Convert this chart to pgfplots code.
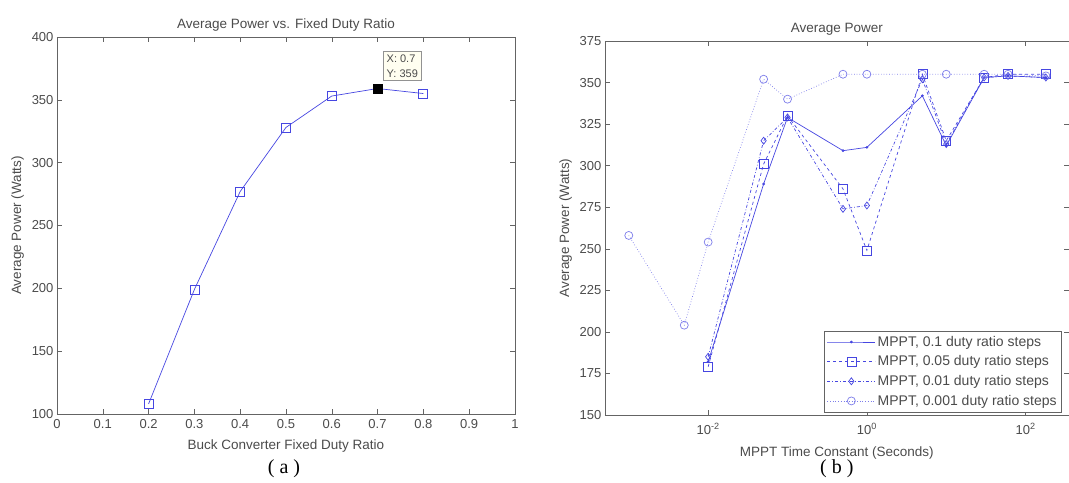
\documentclass[border=0pt]{standalone}
\usepackage{fontspec}
\setmainfont{Liberation Sans}
\newfontfamily\capfont{Liberation Serif}
\usepackage{pgfplots}
\usepackage{pgfplotstable}
\pgfplotsset{compat=1.18}

\definecolor{mblue}{RGB}{70,70,225}
\definecolor{txt}{RGB}{75,75,75}
\definecolor{axc}{RGB}{100,100,100}

% fixed duty ratio sweep
\pgfplotstableread{
d    p
0.2  108
0.3  199
0.4  277
0.5  328
0.6  353
0.7  359
0.8  355
}\fixed

% MPPT time constant sweeps
\pgfplotstableread{
t     p
0.01  182
0.05  289
0.1   329
0.5   309
1     311
5     342
10    312
30    353
60    354
180   353
}\sa
\pgfplotstableread{
t     p
0.01  179
0.05  301
0.1   330
0.5   286
1     249
5     355
10    315
30    353
60    355
180   355
}\sb
\pgfplotstableread{
t     p
0.01  185
0.05  315
0.1   329
0.5   274
1     276
5     352
10    313
30    353
60    354
180   353
}\sc
\pgfplotstableread{
t      p
0.001  258
0.005  204
0.01   254
0.05   352
0.1    340
0.5    355
1      355
5      355
10     355
30     355
60     355
180    354
}\sd

\pgfplotsset{
  mat/.style={
    scale only axis,
    axis line style={axc},
    every tick/.style={axc},
    tick align=inside,
    major tick length=5pt,
    tick label style={font=\fontsize{13}{15}\selectfont,txt},
    label style={font=\fontsize{13.5}{15}\selectfont,txt},
    title style={font=\fontsize{13.5}{15}\selectfont,txt,yshift=-4pt},
    /pgf/number format/assume math mode=true,
  },
}

\begin{document}
\begin{tikzpicture}
\path (0pt,0pt) rectangle (1069pt,483pt);

\begin{axis}[mat,
  at={(57pt,69pt)}, anchor=south west,
  width=458pt, height=377pt,
  xmin=0, xmax=1, ymin=100, ymax=400,
  xtick={0,0.1,0.2,0.3,0.4,0.5,0.6,0.7,0.8,0.9,1}, ytick={100,150,200,250,300,350,400},
  xticklabels={0,0.1,0.2,0.3,0.4,0.5,0.6,0.7,0.8,0.9,1},
  xticklabel style={yshift=-2pt},
  title={Average Power vs. Fixed Duty Ratio},
  xlabel={Buck Converter Fixed Duty Ratio},
  ylabel={Average Power (Watts)},
  xlabel style={yshift=-4pt},
  ylabel style={yshift=1pt},
]
\addplot[mblue, line width=0.7pt, mark=square, mark size=4.5pt, mark options={solid}] table[x=d,y=p] {\fixed};
\addplot[only marks, mark=square*, mark size=4.5pt, black] coordinates {(0.7,359)};
\node[draw=axc!70, fill=yellow!6, font=\fontsize{11}{15}\selectfont, text=txt, align=left, anchor=south west, inner sep=3pt] at (axis cs:0.713,365.5) {X: 0.7\\Y: 359};
\end{axis}

\begin{axis}[mat,
  at={(605pt,68pt)}, anchor=south west,
  width=464pt, height=374pt,
  xmode=log, xmin=5e-4, xmax=350, ymin=150, ymax=375,
  xtick={0.01,1,100}, xminorticks=false,
  xticklabels={10\textsuperscript{-2},10\textsuperscript{0},10\textsuperscript{2}},
  xticklabel style={yshift=-5pt},
  ytick={150,175,200,225,250,275,300,325,350,375},
  title={Average Power},
  xlabel={MPPT Time Constant (Seconds)},
  ylabel={Average Power (Watts)},
  xlabel style={yshift=-6pt},
  ylabel style={yshift=1pt},
  legend style={at={(rel axis cs:0.985,0.008)}, anchor=south east, draw=axc,
    font=\fontsize{14}{15}\selectfont, text=txt, row sep=4pt, inner sep=3pt},
  legend cell align=left,
  legend image code/.code={\draw[mark repeat=2,mark phase=2] plot coordinates {(0pt,0pt) (24pt,0pt) (48pt,0pt)};},
]
\addplot[mblue, line width=0.7pt, mark=*, mark size=1pt] table[x=t,y=p] {\sa};
\addplot[mblue, line width=0.7pt, dashed, mark=square, mark size=4.5pt, mark options={solid}] table[x=t,y=p] {\sb};
\addplot[mblue, line width=0.7pt, dash dot, mark=diamond, mark size=3.5pt, mark options={solid}] table[x=t,y=p] {\sc};
\addplot[mblue!70, line width=0.7pt, dotted, mark=o, mark size=4pt, mark options={solid}] table[x=t,y=p] {\sd};
\legend{MPPT{,} 0.1 duty ratio steps, MPPT{,} 0.05 duty ratio steps, MPPT{,} 0.01 duty ratio steps, MPPT{,} 0.001 duty ratio steps}
\end{axis}

\node[font=\capfont\fontsize{20}{22}\selectfont] at (284pt,14pt) {( a )};
\node[font=\capfont\fontsize{20}{22}\selectfont] at (837pt,14pt) {( b )};
\end{tikzpicture}
\end{document}
